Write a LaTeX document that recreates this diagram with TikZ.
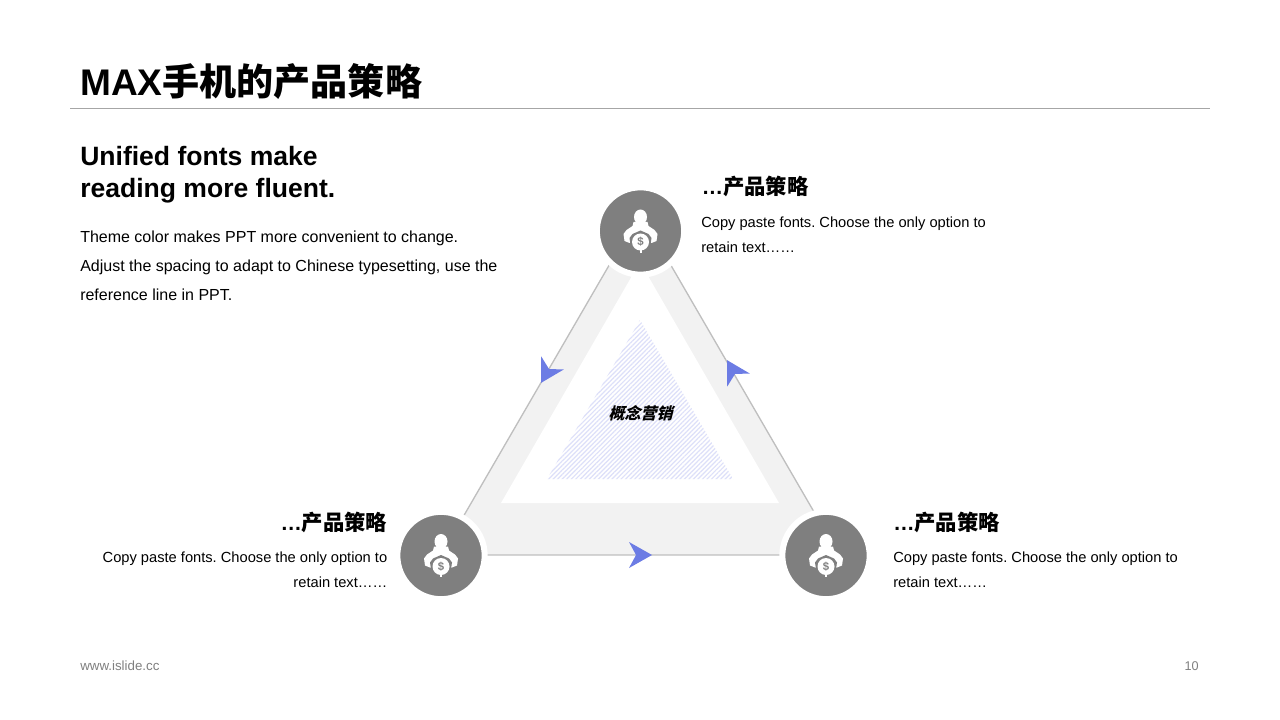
\documentclass[tikz,border=0pt]{standalone}
\usepackage{fontspec}
\setmainfont{Liberation Sans}
\newfontfamily\cjk{Noto Sans CJK SC}
\newfontfamily\cjkslant[FakeSlant=0.25]{Noto Sans CJK SC}
\usetikzlibrary{patterns.meta}
\definecolor{bandgray}{HTML}{F2F2F2}
\definecolor{edgegray}{HTML}{BFBFBF}
\definecolor{rulegray}{HTML}{A6A6A6}
\definecolor{discgray}{HTML}{7F7F7F}
\definecolor{footgray}{HTML}{7F7F7F}
\definecolor{dartblue}{HTML}{6C7CE4}
\definecolor{hatchblue}{HTML}{DDE0F9}
\tikzset{
  disc/.style={circle,fill=discgray,draw=white,line width=4.5pt,minimum size=65.5pt,inner sep=0pt},
  headtext/.style={inner sep=0pt,font=\fontsize{16}{20}\selectfont\bfseries},
  bodytext/.style={inner sep=0pt,font=\fontsize{11}{18.75}\selectfont},
  dart/.pic={\fill[dartblue] (12,0) -- (-11,-13) -- (-4,0) -- (-11,13) -- cycle;},
  moneyman/.pic={
    \fill[white] (0,-14) ellipse (6.5 and 7.5);
    \fill[white] (-7,-9) -- (7,-9) -- (8,-5) -- (14,-1) -- (17,3) -- (16,10) -- (11,12) -- (-11,12) -- (-16,10) -- (-17,3) -- (-14,-1) -- (-8,-5) -- cycle;
    \fill[discgray] (-11,7) -- (-8,3) -- (0,-.5) -- (8,3) -- (11,7) -- (9,20) -- (-9,20) -- cycle;
    \fill[white] (0,11) circle (8.5);
    \fill[white] (-1,18) rectangle (1,21.5);
    \node[text=discgray,inner sep=0pt,font=\fontsize{8.5}{9}\selectfont\bfseries] at (0,11) {\$};
  }
}
\begin{document}
\frenchspacing
\begin{tikzpicture}[x=.75pt,y=-.75pt]
  \useasboundingbox (0,0) rectangle (1280,720);
  % title
  \node[anchor=base west,inner sep=0pt,font=\fontsize{27.8}{30}\selectfont\bfseries] (title) at (80,96) {MAX{\cjk 手机的产品策略}};
  \coordinate (ruleL) at (70,108.5);
  \coordinate (ruleR) at (1210,108.5);
  \draw[rulegray,line width=.75pt] (ruleL) -- (ruleR);
  % left text
  \node[anchor=north west,inner sep=0pt,align=left,font=\fontsize{19.9}{24}\selectfont\bfseries] (lead) at (80,146) {Unified fonts make\\reading more fluent.};
  \node[anchor=north west,inner sep=0pt,align=left,font=\fontsize{12}{21.75}\selectfont] (leadbody) at (80,231) {Theme color makes PPT more convenient to change.\\Adjust the spacing to adapt to Chinese typesetting, use the\\reference line in PPT.};
  % triangles
  \coordinate (outerA) at (640,212);
  \coordinate (outerB) at (441,555);
  \coordinate (outerC) at (839,555);
  \fill[bandgray] (outerA) -- (outerB) -- (outerC) -- cycle;
  \draw[edgegray,line width=1pt] (outerA) -- (outerB) -- (outerC) -- cycle;
  \fill[white] (640,262) -- (501,503) -- (779,503) -- cycle;
  \fill[pattern={Lines[angle=45,distance=2.4pt,line width=.9pt]},pattern color=hatchblue] (640,320) -- (547,479) -- (733,479) -- cycle;
  \node[inner sep=0pt,font=\fontsize{12}{14}\selectfont\bfseries\cjkslant] (core) at (640.5,413) {概念营销};
  % darts
  \pic at (640,555) {dart};
  \pic[rotate=120] at (733,370.5) {dart};
  \pic[rotate=-120] at (547,372.5) {dart};
  % discs
  \foreach \name/\x/\y in {discA/640.5/231,discB/441/555.5,discC/826/555.5}{
    \node[disc] (\name) at (\x,\y) {};
    \pic at (\name) {moneyman};
  }
  % labels
  \node[headtext,anchor=base west] (headA) at (701.5,194.5) {…{\cjk 产品策略}};
  \node[bodytext,anchor=north west,align=left] (bodyA) at (701,217) {Copy paste fonts. Choose the only option to\\retain text……};
  \node[headtext,anchor=base east] (headB) at (387.5,530.5) {…{\cjk 产品策略}};
  \node[bodytext,anchor=north east,align=right] (bodyB) at (387.5,552) {Copy paste fonts. Choose the only option to\\retain text……};
  \node[headtext,anchor=base west] (headC) at (893,530.5) {…{\cjk 产品策略}};
  \node[bodytext,anchor=north west,align=left] (bodyC) at (893,552) {Copy paste fonts. Choose the only option to\\retain text……};
  % footer
  \node[anchor=base west,inner sep=0pt,text=footgray,font=\fontsize{10}{11}\selectfont] (site) at (80,670) {www.islide.cc};
  \node[anchor=base east,inner sep=0pt,text=footgray,font=\fontsize{9.5}{11}\selectfont] (page) at (1199,670) {10};
\end{tikzpicture}
\end{document}
